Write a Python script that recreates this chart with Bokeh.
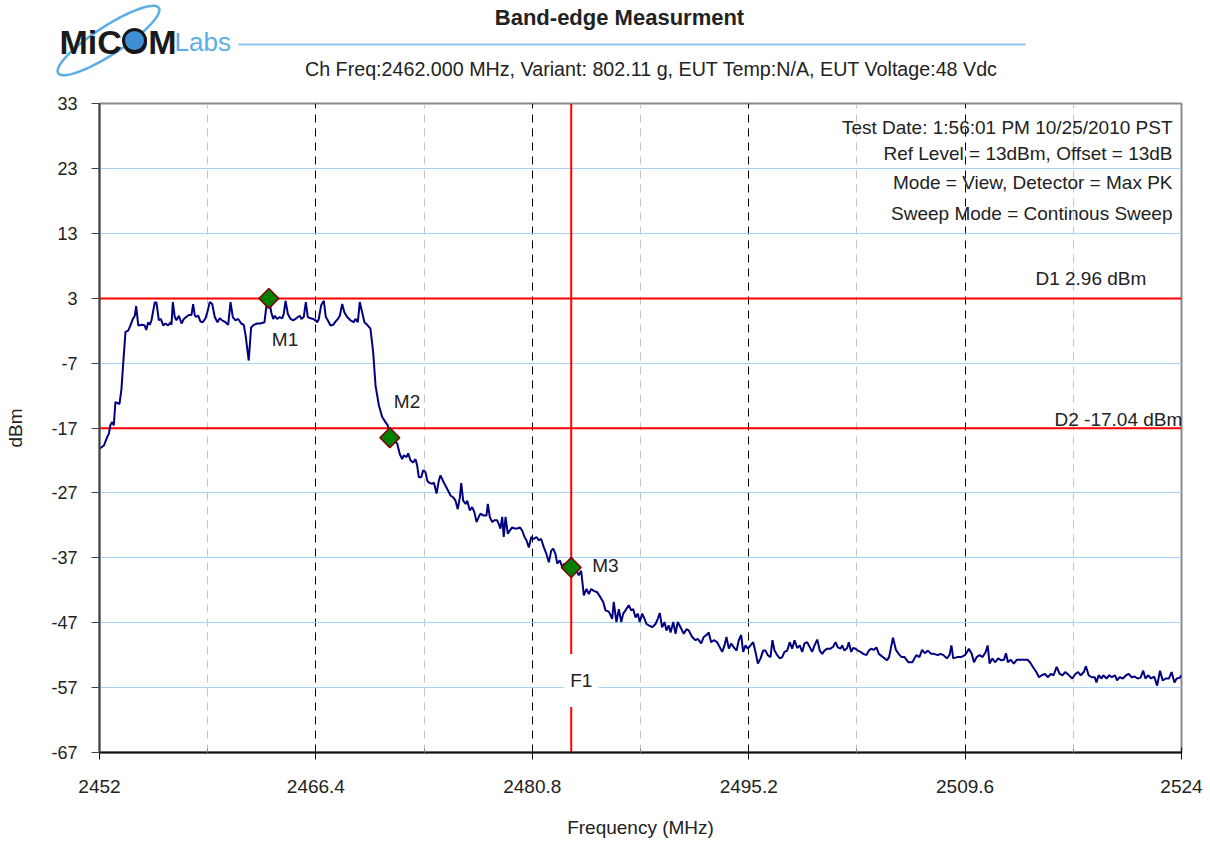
import numpy as np
from bokeh.plotting import figure
from bokeh.layouts import column
from bokeh.models import (Label, FixedTicker, CustomJSTickFormatter, Span, Range1d)
from bokeh.core.properties import value
from bokeh.embed import file_html
from bokeh.resources import INLINE

# ---------------- data ----------------
freq_mhz = [
    2452.00, 2452.29, 2452.51, 2452.62, 2452.73, 2452.85, 2452.95, 2453.06, 2453.33, 2453.46,
    2453.60, 2453.73, 2453.91, 2454.06, 2454.22, 2454.35, 2454.44, 2454.58, 2454.84, 2455.01,
    2455.11, 2455.24, 2455.35, 2455.46, 2455.68, 2455.79, 2455.95, 2456.08, 2456.24, 2456.39,
    2456.57, 2456.72, 2456.79, 2456.88, 2457.01, 2457.12, 2457.28, 2457.46, 2457.61, 2457.77,
    2457.94, 2458.12, 2458.23, 2458.34, 2458.43, 2458.57, 2458.72, 2458.87, 2459.05, 2459.17,
    2459.34, 2459.50, 2459.67, 2459.85, 2460.00, 2460.16, 2460.38, 2460.56, 2460.72, 2460.87,
    2461.05, 2461.23, 2461.43, 2461.60, 2461.72, 2461.93, 2462.09, 2462.27, 2462.49, 2462.71,
    2462.98, 2463.11, 2463.27, 2463.43, 2463.56, 2463.66, 2463.82, 2464.00, 2464.16, 2464.26,
    2464.38, 2464.53, 2464.71, 2464.89, 2465.04, 2465.20, 2465.33, 2465.44, 2465.59, 2465.73,
    2465.86, 2466.04, 2466.22, 2466.37, 2466.49, 2466.59, 2466.75, 2466.93, 2467.06, 2467.19,
    2467.37, 2467.55, 2467.70, 2467.86, 2467.99, 2468.15, 2468.30, 2468.48, 2468.70, 2468.92,
    2469.03, 2469.19, 2469.32, 2469.48, 2469.63, 2469.81, 2470.03, 2470.21, 2470.37, 2470.59,
    2470.81, 2471.03, 2471.18, 2471.32, 2471.81, 2471.98, 2472.14, 2472.25, 2472.43, 2472.54,
    2472.70, 2472.87, 2473.03, 2473.14, 2473.25, 2473.41, 2473.54, 2473.69, 2473.81, 2473.91,
    2474.14, 2474.25, 2474.43, 2474.58, 2474.69, 2474.91, 2475.14, 2475.36, 2475.54, 2475.69,
    2475.84, 2475.98, 2476.07, 2476.20, 2476.36, 2476.47, 2476.64, 2476.80, 2476.95, 2477.09,
    2477.24, 2477.35, 2477.57, 2477.75, 2477.84, 2477.97, 2478.13, 2478.28, 2478.46, 2478.57,
    2478.68, 2478.80, 2478.90, 2479.02, 2479.17, 2479.30, 2479.46, 2479.62, 2479.80, 2479.97,
    2480.13, 2480.28, 2480.41, 2480.57, 2480.73, 2480.90, 2481.08, 2481.23, 2481.39, 2481.57,
    2481.74, 2481.90, 2482.06, 2482.19, 2482.34, 2482.46, 2482.63, 2482.79, 2482.94, 2483.12,
    2483.39, 2483.74, 2483.89, 2484.05, 2484.23, 2484.41, 2484.56, 2484.72, 2484.89, 2485.12,
    2485.34, 2485.52, 2485.67, 2485.89, 2486.12, 2486.22, 2486.40, 2486.56, 2486.72, 2486.85,
    2487.00, 2487.22, 2487.38, 2487.51, 2487.67, 2487.82, 2487.95, 2488.11, 2488.27, 2488.40,
    2488.55, 2488.78, 2489.00, 2489.15, 2489.28, 2489.44, 2489.60, 2489.73, 2489.88, 2490.00,
    2490.18, 2490.33, 2490.48, 2490.66, 2490.88, 2491.06, 2491.21, 2491.44, 2491.66, 2491.81,
    2492.04, 2492.21, 2492.39, 2492.54, 2492.70, 2492.88, 2493.10, 2493.28, 2493.44, 2493.59,
    2493.72, 2493.88, 2494.04, 2494.21, 2494.39, 2494.54, 2494.70, 2494.83, 2494.99, 2495.14,
    2495.32, 2495.50, 2495.65, 2495.81, 2495.99, 2496.16, 2496.32, 2496.47, 2496.65, 2496.78,
    2496.92, 2497.10, 2497.27, 2497.43, 2497.58, 2497.76, 2497.93, 2498.09, 2498.25, 2498.43,
    2498.60, 2498.76, 2498.91, 2499.09, 2499.27, 2499.42, 2499.58, 2499.76, 2499.93, 2500.09,
    2500.24, 2500.42, 2500.64, 2500.82, 2500.98, 2501.13, 2501.31, 2501.42, 2501.57, 2501.75,
    2501.86, 2502.02, 2502.15, 2502.31, 2502.46, 2502.64, 2502.82, 2503.04, 2503.19, 2503.35,
    2503.52, 2503.70, 2503.86, 2504.40, 2504.54, 2504.80, 2505.00, 2505.18, 2505.37, 2505.57,
    2505.83, 2506.09, 2506.35, 2506.56, 2506.74, 2506.92, 2507.13, 2507.34, 2507.52, 2507.78,
    2507.96, 2508.16, 2508.38, 2508.56, 2508.69, 2508.81, 2509.07, 2509.33, 2509.59, 2509.73,
    2509.85, 2510.04, 2510.19, 2510.37, 2510.56, 2510.76, 2510.97, 2511.10, 2511.23, 2511.41,
    2511.59, 2511.80, 2512.01, 2512.19, 2512.32, 2512.45, 2512.63, 2512.84, 2513.05, 2513.23,
    2513.49, 2513.75, 2513.92, 2514.13, 2514.34, 2514.52, 2514.70, 2514.91, 2515.12, 2515.30,
    2515.49, 2515.69, 2515.90, 2516.08, 2516.26, 2516.47, 2516.73, 2516.94, 2517.12, 2517.30,
    2517.50, 2517.64, 2517.82, 2518.02, 2518.23, 2518.34, 2518.49, 2518.68, 2518.80, 2519.01,
    2519.20, 2519.37, 2519.58, 2519.71, 2519.89, 2520.10, 2520.31, 2520.49, 2520.67, 2520.88,
    2521.08, 2521.27, 2521.45, 2521.60, 2521.79, 2521.97, 2522.18, 2522.38, 2522.57, 2522.75,
    2522.95, 2523.16, 2523.34, 2523.53, 2523.68, 2523.87, 2524.00,
]
level_dbm = [
    -20.2, -19.7, -18.4, -17.9, -16.5, -16.1, -16.6, -13.0, -13.3, -11.0,
    -6.3, -2.2, -2.0, -1.2, -0.2, 0.3, 1.8, -1.2, -1.1, -1.2,
    -1.9, -0.7, -1.1, -0.4, 2.4, 2.3, -0.4, -0.2, -1.2, -0.9,
    -1.2, -0.7, -1.1, 2.4, 0.1, -0.4, 0.3, -0.9, -0.2, 0.1,
    0.4, 0.4, 2.1, 0.4, 0.1, 0.3, -0.6, -0.7, -0.1, 0.8,
    2.4, 2.1, 0.1, -0.7, -0.1, -0.4, -0.7, -1.1, 2.4, 0.1,
    -0.4, -0.2, -0.9, -1.1, -2.7, -6.6, -1.5, -1.1, -0.9, -0.9,
    -0.7, 1.9, 2.96, 0.8, -0.2, 0.3, -0.2, 0.1, -0.1, 0.6,
    2.6, 0.6, -0.2, -0.4, -0.2, 0.1, 0.3, -0.2, 0.1, 2.4,
    0.1, -0.1, -0.2, -0.4, -0.7, -0.2, 1.9, 2.6, 0.1, -0.4,
    -1.2, -1.1, -0.6, -0.2, 0.3, 2.1, 0.8, 0.1, -0.4, -0.7,
    -0.2, -0.7, 2.4, 0.8, -0.7, -1.1, -1.7, -5.3, -10.5, -13.5,
    -15.3, -16.1, -16.6, -18.5, -19.4, -21.0, -21.8, -21.2, -21.5, -20.9,
    -22.0, -22.3, -21.8, -22.8, -24.6, -24.6, -23.5, -23.8, -25.1, -25.4,
    -25.6, -25.4, -27.1, -25.1, -24.3, -25.4, -26.4, -27.4, -27.7, -28.2,
    -29.5, -27.7, -25.5, -28.2, -28.7, -28.2, -29.7, -29.2, -30.0, -31.5,
    -30.7, -30.2, -30.5, -30.5, -28.7, -30.7, -31.5, -31.2, -31.2, -31.8,
    -32.5, -30.7, -33.8, -30.7, -33.3, -32.8, -32.3, -32.5, -32.5, -32.3,
    -32.8, -33.8, -34.3, -35.4, -33.8, -34.1, -33.8, -34.3, -34.1, -35.4,
    -36.4, -37.7, -35.9, -35.6, -36.4, -37.9, -37.4, -38.4, -37.9, -38.4,
    -38.5, -39.0, -39.7, -39.0, -42.8, -41.8, -42.6, -41.8, -42.1, -42.3,
    -43.1, -43.8, -45.1, -45.3, -46.4, -43.8, -46.9, -44.9, -46.9, -45.6,
    -45.1, -44.3, -45.1, -44.9, -46.2, -45.6, -46.9, -45.6, -46.4, -47.2,
    -47.4, -47.7, -47.2, -46.4, -45.5, -47.7, -46.9, -48.2, -47.4, -48.5,
    -46.9, -48.7, -46.9, -47.7, -48.7, -48.0, -48.2, -49.2, -49.7, -49.5,
    -50.2, -49.2, -48.9, -48.5, -50.0, -49.7, -50.0, -50.8, -51.5, -50.5,
    -49.2, -51.0, -50.2, -50.8, -51.3, -49.7, -48.9, -51.5, -50.5, -51.0,
    -50.5, -50.0, -51.5, -53.3, -52.5, -51.3, -51.3, -52.0, -52.3, -49.7,
    -51.3, -52.0, -52.5, -52.3, -51.5, -51.3, -50.0, -51.0, -49.7, -50.9,
    -50.5, -51.5, -50.2, -50.0, -50.8, -51.5, -50.5, -49.6, -51.3, -51.8,
    -51.3, -51.0, -51.0, -50.7, -50.0, -50.8, -51.0, -50.5, -51.3, -50.9,
    -50.0, -51.5, -50.9, -51.0, -51.3, -51.5, -51.8, -52.0, -51.3, -51.0,
    -51.2, -50.8, -51.8, -52.8, -52.3, -49.3, -51.2, -51.8, -52.3, -52.3,
    -53.1, -53.1, -52.0, -52.3, -51.2, -51.7, -51.3, -51.8, -51.8, -52.0,
    -51.8, -52.0, -52.5, -52.0, -50.5, -52.5, -52.3, -52.3, -52.0, -51.5,
    -51.0, -51.8, -53.1, -52.3, -52.0, -52.3, -51.5, -50.5, -53.3, -52.5,
    -53.1, -52.5, -52.8, -52.7, -51.7, -53.1, -52.7, -53.3, -52.7, -52.7,
    -52.7, -52.7, -53.1, -53.9, -54.6, -55.4, -55.1, -54.9, -55.4, -54.9,
    -55.1, -53.8, -54.9, -55.1, -54.6, -55.0, -55.6, -54.9, -54.6, -55.1,
    -54.6, -53.7, -55.1, -55.4, -55.4, -56.2, -55.1, -55.6, -55.1, -55.6,
    -55.1, -55.4, -55.1, -55.9, -55.4, -55.6, -55.1, -54.9, -55.4, -55.3,
    -55.6, -55.5, -54.4, -55.6, -55.1, -55.6, -55.3, -56.7, -54.4, -55.9,
    -55.6, -55.6, -54.6, -56.2, -55.6, -55.5, -55.1,
]
assert len(freq_mhz) == len(level_dbm)

marker_names = ["M1", "M2", "M3"]
marker_freq = [2463.27, 2471.32, 2483.39]
marker_level = [2.96, -18.5, -38.5]
d1_level = 2.96
d2_level = -17.04
f1_freq = 2483.39

y_ticks = [33, 23, 13, 3, -7, -17, -27, -37, -47, -57, -67]
x_ticks = [2452, 2466.4, 2480.8, 2495.2, 2509.6, 2524]
x_minor_ticks = [2459.2, 2473.6, 2488.0, 2502.4, 2516.8]

title_text = "Band-edge Measurment"
subtitle_text = "Ch Freq:2462.000 MHz, Variant: 802.11 g, EUT Temp:N/A, EUT Voltage:48 Vdc"
info_lines = ["Test Date: 1:56:01 PM 10/25/2010 PST",
              "Ref Level = 13dBm, Offset = 13dB",
              "Mode = View, Detector = Max PK",
              "Sweep Mode = Continous Sweep"]

W = 1205
HEAD_H = 95
MAIN_H = 745
FONT = "Liberation Sans"
TXT = "#222222"

# ---------------- header (pixel coordinates, top-left origin) ----------------
hd = figure(width=W, height=HEAD_H, x_range=Range1d(0, W), y_range=Range1d(HEAD_H, 0),
            output_backend="svg", toolbar_location=None, x_axis_type=None, y_axis_type=None,
            min_border=0)
hd.frame_align = False
hd.outline_line_color = None
hd.grid.visible = False
hd.background_fill_color = "white"
hd.border_fill_color = "white"

# logo swoosh (decoration)
t = np.linspace(0, 2 * np.pi, 90)
ang = np.deg2rad(33)
ex = 108 + 60 * np.cos(t) * np.cos(ang) - 14 * np.sin(t) * np.sin(ang)
ey = 40 - (60 * np.cos(t) * np.sin(ang) + 14 * np.sin(t) * np.cos(ang))
hd.line(ex, ey, line_color="#5aaee6", line_width=2.5)
hd.text(x=[59], y=[41], text=["MiCOM"], text_font=value(FONT), text_font_size="34px",
        text_font_style="bold", text_color="#1a1a1a", text_baseline="middle", text_align="left")
hd.scatter(x=[134], y=[40], size=22, marker="circle", fill_color="#3d8fd6",
           line_color="#151515", line_width=3)
hd.text(x=[174], y=[41], text=["Labs"], text_font=value(FONT),
        text_font_size="26px", text_color="#5aaee6", text_baseline="middle", text_align="left")

hd.line([238, 1025], [44, 44], line_color="#90c4ee", line_width=2)
hd.text(x=[619], y=[17], text=[title_text], text_font=value(FONT), text_font_size="22px",
        text_font_style="bold", text_color=TXT, text_align="center", text_baseline="middle")
hd.text(x=[651], y=[68], text=[subtitle_text], text_font=value(FONT), text_font_size="19.7px",
        text_color=TXT, text_align="center", text_baseline="middle")

# ---------------- main chart ----------------
p = figure(width=W, height=MAIN_H, x_range=(2452, 2524), y_range=(-67, 33),
           output_backend="svg", toolbar_location=None,
           min_border_left=99, min_border_right=W - 1181, min_border_top=103 - HEAD_H,
           min_border_bottom=MAIN_H - (752 - HEAD_H))
p.frame_align = False
p.background_fill_color = "white"
p.border_fill_color = "white"
p.outline_line_color = "#8a8a8a"
p.outline_line_width = 2

xt = FixedTicker(ticks=x_ticks, minor_ticks=x_minor_ticks)
yt = FixedTicker(ticks=y_ticks, minor_ticks=[])
p.xaxis.ticker = xt
p.yaxis.ticker = yt
p.xgrid.ticker = xt
p.ygrid.ticker = yt
p.xaxis.formatter = CustomJSTickFormatter(code="return String(Math.round(tick*10)/10);")
p.yaxis.formatter = CustomJSTickFormatter(code="return String(Math.round(tick));")

p.xgrid.grid_line_color = "#000000"
p.xgrid.grid_line_dash = "8 6"
p.xgrid.grid_line_width = 1
p.xgrid.minor_grid_line_color = "#c4c4c4"
p.xgrid.minor_grid_line_dash = "8 6"
p.xgrid.minor_grid_line_width = 1
p.ygrid.grid_line_color = "#a6d0f5"
p.ygrid.grid_line_width = 1

for ax in (p.xaxis[0], p.yaxis[0]):
    ax.major_label_text_font = FONT
    ax.major_label_text_font_size = "19px"
    ax.major_label_text_color = TXT
    ax.axis_label_text_font = FONT
    ax.axis_label_text_font_size = "19px"
    ax.axis_label_text_font_style = "normal"
    ax.axis_label_text_color = TXT
p.yaxis.major_label_text_font_size = "18px"

p.xaxis.axis_label = "Frequency (MHz)"
p.yaxis.axis_label = "dBm"
p.xaxis.axis_line_color = "#111111"
p.xaxis.axis_line_width = 2
p.xaxis.major_tick_line_color = "#111111"
p.xaxis.major_tick_in = 5
p.xaxis.major_tick_out = 7
p.xaxis.minor_tick_line_color = "#888888"
p.xaxis.minor_tick_in = 4
p.xaxis.minor_tick_out = 0
p.xaxis.major_label_standoff = 20
p.xaxis.axis_label_standoff = 21

p.yaxis.axis_line_color = "#444444"
p.yaxis.axis_line_width = 2
p.yaxis.major_tick_line_color = "#444444"
p.yaxis.major_tick_in = 0
p.yaxis.major_tick_out = 8
p.yaxis.minor_tick_line_color = None
p.yaxis.major_label_standoff = 14
p.yaxis.axis_label_standoff = 22

# red display lines (under the trace)
p.add_layout(Span(location=d1_level, dimension="width", line_color="#ff0000",
                  line_width=2, level="underlay"))
p.add_layout(Span(location=d2_level, dimension="width", line_color="#ff0000",
                  line_width=2, level="underlay"))
p.add_layout(Span(location=f1_freq, dimension="height", line_color="#ff0000",
                  line_width=2, level="underlay"))

# trace
p.line(freq_mhz, level_dbm, line_color="#000080", line_width=2)

# markers
p.scatter(marker_freq, marker_level, marker="square", angle=np.pi / 4, size=14,
          fill_color="#008000", line_color="#800000", line_width=1.5)

def lab(**kw):
    base = dict(text_font=FONT, text_font_size="19px", text_color=TXT)
    base.update(kw)
    p.add_layout(Label(**base))

lab(x=marker_freq[0], y=marker_level[0], text=marker_names[0], x_offset=3, y_offset=-41,
    text_baseline="middle")
lab(x=marker_freq[1], y=marker_level[1], text=marker_names[1], x_offset=4, y_offset=36,
    text_baseline="middle")
lab(x=marker_freq[2], y=marker_level[2], text=marker_names[2], x_offset=21, y_offset=2,
    text_baseline="middle")
lab(x=2514.28, y=d1_level, text="D1 %.2f dBm" % d1_level, y_offset=20, text_baseline="middle")
lab(x=2515.55, y=d2_level, text="D2 %.2f dBm" % d2_level, y_offset=9, text_baseline="middle")
lab(x=f1_freq, y=-55.9, text="F1", x_offset=-7, text_baseline="middle",
    background_fill_color="white", padding=dict(left=6, right=6, top=16, bottom=16))

# info block (top right, canvas pixel coordinates)
for py, tline in zip([127, 153, 182, 213], info_lines):
    lab(x=1172, y=py - HEAD_H, x_units="canvas", y_units="canvas", text=tline,
        text_align="right", text_baseline="middle")

layout = column(hd, p, spacing=0)
open("out.html", "w").write(file_html(layout, INLINE))
